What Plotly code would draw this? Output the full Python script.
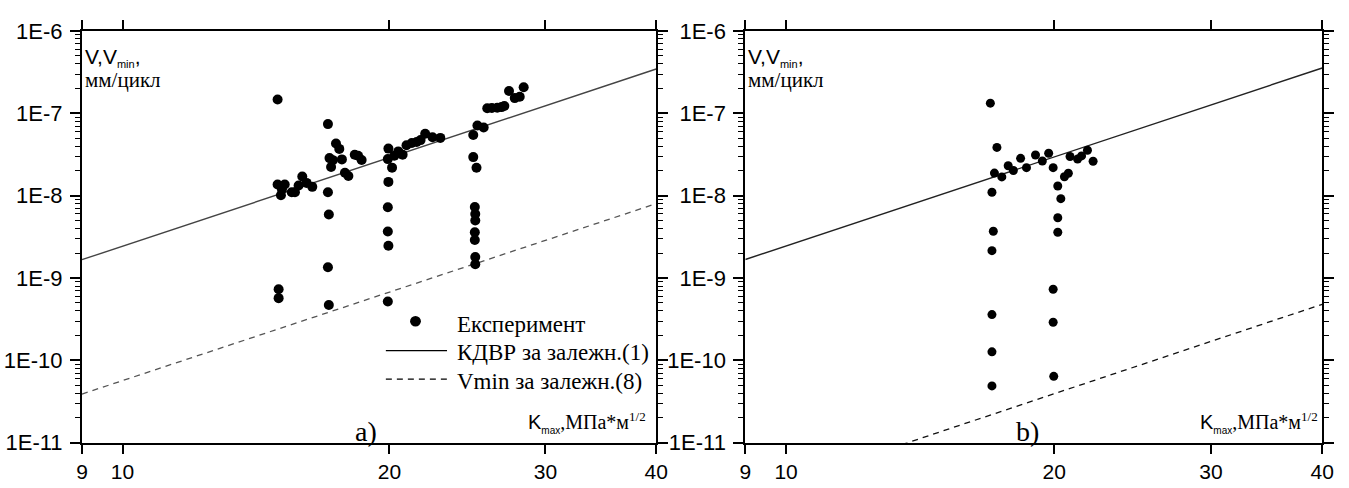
import plotly.graph_objects as go

# ---------------- panel a) : experimental crack growth rates ----------------
a_exp_k = [14.96, 14.96, 15.24, 15.13, 15.09, 15.52, 15.65, 15.80, 15.95, 16.13, 16.37, 15.00, 15.00,
           17.05, 17.41, 17.56, 17.12, 17.27, 17.68, 17.19, 17.82, 17.98, 18.28, 18.44, 18.61,
           17.05, 17.09, 17.05, 17.09,
           19.95, 19.92, 20.14, 20.26, 20.47, 20.70, 20.91, 21.20, 21.47, 21.69, 21.95, 22.37, 22.83,
           19.95, 19.92, 19.92, 19.95, 19.92,
           24.87, 25.14, 25.55, 24.87, 25.08, 24.97, 25.00, 25.00, 24.97, 24.97, 25.00, 25.00,
           25.79, 26.10, 26.47, 26.77, 26.96, 27.29, 27.70, 28.06, 28.35]
a_exp_v = [1.47e-7, 1.37e-8, 1.37e-8, 1.19e-8, 1.01e-8, 1.10e-8, 1.10e-8, 1.33e-8, 1.71e-8, 1.43e-8, 1.28e-8, 7.3e-10, 5.7e-10,
           7.4e-8, 4.3e-8, 3.7e-8, 2.86e-8, 2.7e-8, 2.76e-8, 2.23e-8, 1.9e-8, 1.73e-8, 3.14e-8, 3.05e-8, 2.71e-8,
           1.1e-8, 5.9e-9, 1.35e-9, 4.7e-10,
           3.73e-8, 2.78e-8, 2.19e-8, 3.05e-8, 3.45e-8, 3.15e-8, 4.09e-8, 4.37e-8, 4.49e-8, 4.73e-8, 5.65e-8, 5.12e-8, 5.03e-8,
           1.47e-8, 7.25e-9, 3.68e-9, 2.47e-9, 5.2e-10,
           5.45e-8, 7.1e-8, 6.73e-8, 2.94e-8, 2.18e-8, 7.3e-9, 6.0e-9, 5.0e-9, 3.6e-9, 2.9e-9, 1.8e-9, 1.47e-9,
           1.15e-7, 1.16e-7, 1.17e-7, 1.19e-7, 1.23e-7, 1.87e-7, 1.53e-7, 1.59e-7, 2.07e-7]

# growth-rate relation (1) and threshold relation (8)
a_fit_k = [9, 40]
a_fit_v = [1.67e-9, 3.45e-7]
a_vmin_k = [9, 40]
a_vmin_v = [3.9e-11, 8.0e-9]

# ---------------- panel b) ----------------
b_exp_k = [16.96, 17.25, 17.14, 17.03, 17.09, 17.03, 17.03, 17.03, 17.03,
           17.47, 17.76, 18.00, 18.34, 18.62, 19.06, 19.40, 19.72, 19.95,
           20.84, 21.25, 21.47, 21.80, 22.12, 20.75, 20.54, 20.19, 20.35, 20.19, 20.19,
           19.95, 19.95, 19.98]
b_exp_v = [1.33e-7, 3.86e-8, 1.88e-8, 1.1e-8, 3.7e-9, 2.15e-9, 3.6e-10, 1.27e-10, 4.9e-11,
           1.69e-8, 2.31e-8, 2.02e-8, 2.84e-8, 2.19e-8, 3.12e-8, 2.64e-8, 3.27e-8, 2.19e-8,
           2.99e-8, 2.78e-8, 3.04e-8, 3.56e-8, 2.62e-8, 1.87e-8, 1.7e-8, 1.31e-8, 9.2e-9, 5.4e-9, 3.6e-9,
           7.3e-10, 2.9e-10, 6.4e-11]

b_fit_k = [9, 40]
b_fit_v = [1.68e-9, 3.55e-7]
b_vmin_k = [9, 40]
b_vmin_v = [2.2e-12, 4.8e-10]

# ---------------- axis ticks ----------------
x_tickvals = [9, 10, 20, 30, 40]
x_ticktext = ["9", "10", "20", "30", "40"]
y_tickvals = [1e-11, 1e-10, 1e-9, 1e-8, 1e-7, 1e-6]
y_ticktext = ["1E-11", "1E-10", "1E-9", "1E-8", "1E-7", "1E-6"]
y_minor = [m * 10.0 ** e for e in range(-11, -6) for m in range(2, 10)]

legend_labels = ["Експеримент", "КДВР за залежн.(1)", "Vmin за залежн.(8)"]

SANS = "Liberation Sans"
SERIF = "'Liberation Serif', 'Times New Roman', serif"

fig = go.Figure()

panels = [
    ("x", "y", a_exp_k, a_exp_v, a_fit_k, a_fit_v, a_vmin_k, a_vmin_v, "#444444", "#555555", 10),
    ("x2", "y2", b_exp_k, b_exp_v, b_fit_k, b_fit_v, b_vmin_k, b_vmin_v, "#222222", "#111111", 9),
]
for xa, ya, ek, ev, fk, fv, mk, mv, c_fit, c_min, msize in panels:
    fig.add_trace(go.Scatter(x=fk, y=fv, mode="lines", xaxis=xa, yaxis=ya,
                             line=dict(color=c_fit, width=1.4), showlegend=False))
    fig.add_trace(go.Scatter(x=mk, y=mv, mode="lines", xaxis=xa, yaxis=ya,
                             line=dict(color=c_min, width=1.3, dash="6px,5px"), showlegend=False))
    fig.add_trace(go.Scatter(x=ek, y=ev, mode="markers", xaxis=xa, yaxis=ya,
                             marker=dict(color="black", size=msize, line=dict(width=0)),
                             showlegend=False))

yb, yt = 1 - 454 / 488, 1 - 20 / 488
xdom = {"x": [77 / 1349, 659 / 1349], "x2": [749.3 / 1349, 1334 / 1349]}

xaxis_style = dict(type="log", range=[0.954243, 1.60206], tickmode="array",
                   tickvals=x_tickvals, ticktext=x_ticktext, ticks="outside", ticklen=9,
                   tickwidth=1.5, tickcolor="black", showline=True, linewidth=2, linecolor="black",
                   mirror="ticks", showgrid=False, zeroline=False,
                   tickfont=dict(family=SANS, size=21, color="black"))
yaxis_style = dict(type="log", range=[-11, -6], tickmode="array",
                   tickvals=y_tickvals, ticktext=y_ticktext, ticks="outside", ticklen=10,
                   tickwidth=1.5, tickcolor="black", showline=True, linewidth=2, linecolor="black",
                   mirror="ticks", showgrid=False, zeroline=False, ticklabelstandoff=3,
                   minor=dict(tickmode="array", tickvals=y_minor, ticks="outside", ticklen=5,
                              tickwidth=1, tickcolor="black", showgrid=False),
                   tickfont=dict(family=SANS, size=22, color="black"))

fig.update_layout(
    width=1349, height=488,
    margin=dict(l=0, r=0, t=0, b=0),
    paper_bgcolor="white", plot_bgcolor="white",
    showlegend=False,
    font=dict(family=SERIF, color="black"),
    xaxis=dict(xaxis_style, domain=xdom["x"], anchor="y"),
    yaxis=dict(yaxis_style, domain=[yb, yt], anchor="x"),
    xaxis2=dict(xaxis_style, domain=xdom["x2"], anchor="y2"),
    yaxis2=dict(yaxis_style, domain=[yb, yt], anchor="x2"),
)

annotations = []
shapes = []
for xa, ya, letter, vx, letter_x, klabel_x in [("x", "y", "a)", 0.001, 0.495, 0.985),
                                                ("x2", "y2", "b)", 0.002, 0.490, 0.997)]:
    xr, yr = xa + " domain", ya + " domain"
    annotations += [
        dict(xref=xr, yref=yr, x=vx, y=0.935, xanchor="left", yanchor="middle", showarrow=False,
             text='V,V<sub><span style="font-size:11px">min</span></sub>,',
             font=dict(family=SANS, size=21, color="black")),
        dict(xref=xr, yref=yr, x=vx, y=0.880, xanchor="left", yanchor="middle", showarrow=False,
             text="мм/цикл", font=dict(family=SERIF, size=21, color="black")),
        dict(xref=xr, yref=yr, x=letter_x, y=0.028, xanchor="center", yanchor="middle",
             showarrow=False, text=letter, font=dict(family=SERIF, size=28, color="black")),
        dict(xref=xr, yref=yr, x=klabel_x, y=0.050, xanchor="right", yanchor="middle",
             showarrow=False,
             text='<span style="font-family:Liberation Sans">K<sub><span style="font-size:10px">max</span></sub></span>,МПа*м<sup><span style="font-size:13px">1/2</span></sup>',
             font=dict(family=SERIF, size=20, color="black")),
    ]

# legend of panel a)
r_x, r_y = 5.5 / 582, 5.5 / 434
shapes.append(dict(type="circle", xref="x domain", yref="y domain",
                   x0=0.5808 - r_x, x1=0.5808 + r_x, y0=0.2949 - r_y, y1=0.2949 + r_y,
                   fillcolor="black", line=dict(width=0)))
shapes.append(dict(type="line", xref="x domain", yref="y domain",
                   x0=0.5292, x1=0.6357, y0=0.2235, y1=0.2235,
                   line=dict(color="black", width=1.3)))
shapes.append(dict(type="line", xref="x domain", yref="y domain",
                   x0=0.5292, x1=0.6357, y0=0.1544, y1=0.1544,
                   line=dict(color="black", width=1.3, dash="6px,5px")))
for label, ly in zip(legend_labels, [0.288, 0.219, 0.149]):
    annotations.append(dict(xref="x domain", yref="y domain", x=0.6495, y=ly,
                            xanchor="left", yanchor="middle", showarrow=False, text=label,
                            font=dict(family=SERIF, size=23, color="black")))

fig.update_layout(annotations=annotations, shapes=shapes)

fig.write_html("out.html")
